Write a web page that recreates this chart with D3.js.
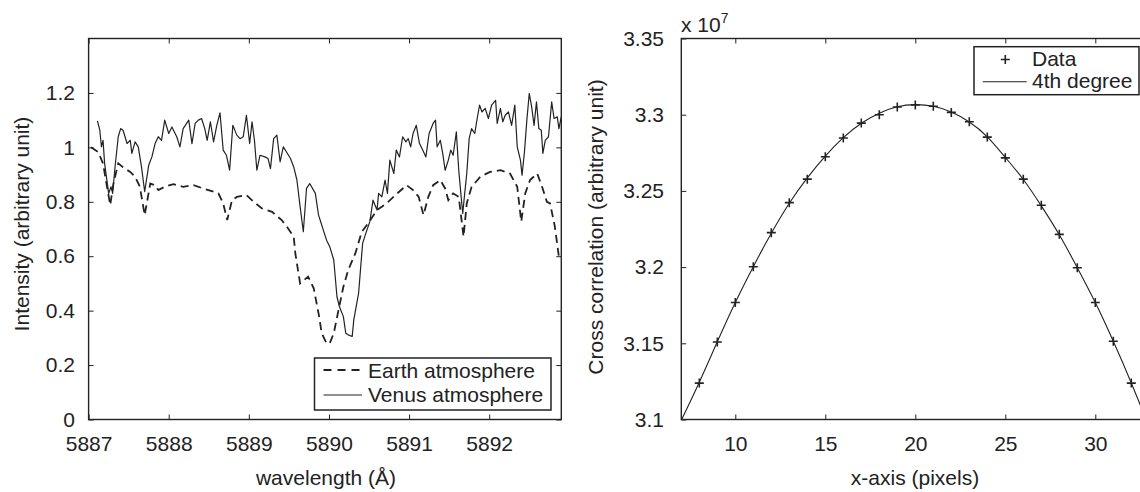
<!DOCTYPE html>
<html><head><meta charset="utf-8">
<script src="https://cdn.jsdelivr.net/npm/d3@7"></script>
<style>
body{margin:0;background:#fff;}
svg{display:block;font-family:"Liberation Sans",Arial,Helvetica,sans-serif;}
</style></head><body>
<svg id="chart" width="1140" height="492"></svg>
<script>
// ---------- Left panel data ----------
const earthWavelength = [5887.03,5887.12,5887.18,5887.23,5887.27,5887.31,5887.37,5887.45,5887.52,5887.58,5887.64,5887.70,5887.77,5887.83,5887.87,5887.95,5888.06,5888.18,5888.31,5888.43,5888.56,5888.62,5888.68,5888.73,5888.79,5888.85,5888.97,5889.06,5889.16,5889.29,5889.41,5889.49,5889.56,5889.58,5889.64,5889.74,5889.81,5889.87,5889.91,5889.97,5890.01,5890.06,5890.12,5890.18,5890.24,5890.33,5890.41,5890.49,5890.60,5890.72,5890.83,5890.97,5891.05,5891.12,5891.18,5891.24,5891.30,5891.39,5891.45,5891.49,5891.55,5891.62,5891.68,5891.72,5891.78,5891.89,5892.01,5892.14,5892.26,5892.35,5892.40,5892.45,5892.51,5892.60,5892.66,5892.72,5892.76,5892.82,5892.87,5892.90];
const earthIntensity = [1.00,0.983,0.941,0.855,0.788,0.867,0.941,0.922,0.910,0.892,0.855,0.751,0.867,0.861,0.843,0.855,0.865,0.855,0.861,0.849,0.837,0.831,0.794,0.733,0.806,0.818,0.825,0.800,0.776,0.763,0.733,0.702,0.672,0.611,0.500,0.525,0.482,0.390,0.317,0.280,0.280,0.317,0.403,0.488,0.549,0.611,0.690,0.721,0.770,0.794,0.825,0.861,0.843,0.818,0.751,0.818,0.861,0.880,0.849,0.806,0.831,0.818,0.672,0.794,0.855,0.892,0.910,0.916,0.904,0.855,0.727,0.831,0.880,0.904,0.855,0.800,0.794,0.708,0.598,0.586];
const venusWavelength = [5887.11,5887.14,5887.16,5887.18,5887.20,5887.25,5887.28,5887.30,5887.33,5887.37,5887.40,5887.43,5887.48,5887.52,5887.54,5887.58,5887.62,5887.66,5887.70,5887.75,5887.79,5887.83,5887.87,5887.91,5887.95,5888.00,5888.04,5888.10,5888.14,5888.18,5888.25,5888.29,5888.33,5888.37,5888.41,5888.45,5888.48,5888.52,5888.56,5888.60,5888.64,5888.68,5888.72,5888.76,5888.80,5888.85,5888.89,5888.93,5888.97,5889.01,5889.04,5889.07,5889.10,5889.14,5889.20,5889.24,5889.27,5889.31,5889.35,5889.39,5889.43,5889.47,5889.52,5889.56,5889.60,5889.64,5889.68,5889.72,5889.76,5889.83,5889.87,5889.89,5889.93,5889.97,5890.01,5890.06,5890.10,5890.13,5890.18,5890.21,5890.24,5890.29,5890.31,5890.37,5890.39,5890.42,5890.46,5890.51,5890.55,5890.60,5890.62,5890.66,5890.70,5890.73,5890.76,5890.81,5890.84,5890.88,5890.92,5890.96,5890.99,5891.02,5891.05,5891.09,5891.13,5891.17,5891.21,5891.25,5891.30,5891.33,5891.35,5891.39,5891.42,5891.45,5891.49,5891.52,5891.55,5891.59,5891.62,5891.65,5891.67,5891.69,5891.72,5891.75,5891.78,5891.82,5891.85,5891.88,5891.91,5891.95,5891.99,5892.03,5892.08,5892.10,5892.14,5892.17,5892.20,5892.24,5892.28,5892.32,5892.35,5892.39,5892.41,5892.44,5892.47,5892.50,5892.53,5892.56,5892.59,5892.62,5892.65,5892.67,5892.70,5892.74,5892.78,5892.81,5892.85,5892.87,5892.90];
const venusIntensity = [1.097,1.063,1.002,1.026,0.941,0.831,0.855,0.831,0.928,1.039,1.069,1.063,1.014,1.026,0.978,1.020,1.002,0.928,0.837,0.934,0.965,1.014,1.039,1.026,1.100,1.051,1.075,1.039,1.002,1.069,1.100,1.014,1.088,1.100,1.106,1.069,1.026,1.094,1.020,1.081,1.127,0.990,0.971,0.916,1.081,1.045,1.032,1.039,1.118,1.014,1.094,1.026,0.916,0.971,0.965,0.959,0.922,1.032,1.045,0.947,1.002,0.983,0.959,0.928,0.880,0.782,0.690,0.849,0.867,0.831,0.751,0.733,0.696,0.659,0.635,0.586,0.451,0.415,0.378,0.317,0.311,0.305,0.366,0.464,0.537,0.647,0.684,0.727,0.806,0.770,0.831,0.818,0.880,0.831,0.953,0.904,0.990,0.965,1.039,1.020,1.032,1.002,1.051,1.081,1.014,0.990,0.965,1.051,1.088,1.100,1.002,1.026,0.978,0.916,0.953,0.990,0.971,1.057,0.916,0.818,0.757,0.818,0.904,1.032,1.069,1.051,1.106,1.155,1.130,1.143,1.106,1.155,1.173,1.088,1.143,1.094,1.118,1.130,1.081,1.155,1.002,0.953,0.898,0.983,1.100,1.198,1.149,1.081,1.167,1.069,1.063,0.978,1.026,1.039,1.167,1.106,1.112,1.069,1.112];
const leftXTicks = [5887,5888,5889,5890,5891,5892];
const leftYTicks = [0,0.2,0.4,0.6,0.8,1,1.2];
const leftLegendLabels = ["Earth atmosphere","Venus atmosphere"];

// ---------- Right panel data ----------
const pixelPositions = [8,9,10,11,12,13,14,15,16,17,18,19,20,21,22,23,24,25,26,27,28,29,30,31,32];
const crossCorrelation = [3.1239,3.1509,3.1768,3.2002,3.2226,3.2423,3.2577,3.2724,3.2847,3.2945,3.3000,3.3051,3.3064,3.3055,3.3015,3.2954,3.2853,3.2717,3.2577,3.2406,3.2215,3.1996,3.1768,3.1513,3.1239];
const fitPositions = [7,8,9,10,11,12,13,14,15,16,17,18,19,20,21,22,23,24,25,26,27,28,29,30,31,32,33];
const fitValues = [3.0995,3.1245,3.1510,3.1768,3.2003,3.2222,3.2419,3.2585,3.2728,3.2849,3.2944,3.3010,3.3052,3.3066,3.3055,3.3017,3.2952,3.2855,3.2720,3.2575,3.2402,3.2212,3.1996,3.1767,3.1513,3.1240,3.0950];
const rightXTicks = [10,15,20,25,30];
const rightYTicks = [3.1,3.15,3.2,3.25,3.3,3.35];
const rightYTickLabels = ["3.1","3.15","3.2","3.25","3.3","3.35"];
const rightLegendLabels = ["Data","4th degree"];

const INK = "#222";
const FONT = 21;
const svg = d3.select("#chart");
svg.append("rect").attr("width",1140).attr("height",492).attr("fill","#fff");

function frame(g, x, y, xTicks, yTicks, xFmt, yFmt, yPad) {
  const [x0,x1] = x.range(), [y0,y1] = y.range();
  const bottom = g.append("g").attr("transform",`translate(0,${y0})`)
    .call(d3.axisBottom(x).tickValues(xTicks).tickFormat(xFmt).tickSize(-5).tickPadding(17));
  const top = g.append("g").attr("transform",`translate(0,${y1})`)
    .call(d3.axisTop(x).tickValues(xTicks).tickFormat("").tickSize(-5));
  const left = g.append("g").attr("transform",`translate(${x0},0)`)
    .call(d3.axisLeft(y).tickValues(yTicks).tickFormat(yFmt).tickSize(-5).tickPadding(yPad));
  const right = g.append("g").attr("transform",`translate(${x1},0)`)
    .call(d3.axisRight(y).tickValues(yTicks).tickFormat("").tickSize(-5));
  [bottom,top,left,right].forEach(a=>{
    a.select(".domain").remove();
    a.selectAll("line").attr("stroke",INK).attr("stroke-width",1);
    a.selectAll("text").attr("fill",INK).style("font-size",FONT+"px").style("font-family",'"Liberation Sans",Arial,sans-serif');
  });
  g.append("rect").attr("x",x0).attr("y",y1).attr("width",x1-x0).attr("height",y0-y1)
    .attr("fill","none").attr("stroke",INK).attr("stroke-width",1.4);
}

// ---------- Left panel ----------
const xL = d3.scaleLinear().domain([5887,5892.9]).range([88.6,561.3]);
const yL = d3.scaleLinear().domain([0,1.4]).range([419.5,38.5]);
const gL = svg.append("g");
gL.append("clipPath").attr("id","clipL").append("rect")
  .attr("x",88.6).attr("y",38.5).attr("width",561.3-88.6).attr("height",419.5-38.5);
const lineL = d3.line().x(d=>xL(d[0])).y(d=>yL(d[1]));
const plotL = gL.append("g").attr("clip-path","url(#clipL)");
plotL.append("path").datum(d3.zip(earthWavelength,earthIntensity))
  .attr("d",lineL).attr("fill","none").attr("stroke",INK).attr("stroke-width",1.8)
  .attr("stroke-dasharray","8,5");
plotL.append("path").datum(d3.zip(venusWavelength,venusIntensity))
  .attr("d",lineL).attr("fill","none").attr("stroke",INK).attr("stroke-width",1.2)
  .attr("stroke-linejoin","round");
frame(gL,xL,yL,leftXTicks,leftYTicks,d3.format("d"),d=>String(d),13.6);

// left legend
const legL = gL.append("g");
legL.append("rect").attr("x",314.5).attr("y",358).attr("width",551-314.5).attr("height",52)
  .attr("fill","#fff").attr("stroke",INK).attr("stroke-width",1.5);
legL.append("line").attr("x1",323.5).attr("x2",362).attr("y1",370).attr("y2",370)
  .attr("stroke",INK).attr("stroke-width",1.8).attr("stroke-dasharray","8,6");
legL.append("line").attr("x1",323.5).attr("x2",362).attr("y1",395).attr("y2",395)
  .attr("stroke",INK).attr("stroke-width",1.1);
legL.selectAll("text.lg").data(leftLegendLabels).join("text")
  .attr("x",368).attr("y",(d,i)=>377.5+i*24.5).attr("fill",INK)
  .style("font-size",FONT+"px").text(d=>d);

// axis titles left
gL.append("text").attr("x",326).attr("y",485).attr("text-anchor","middle")
  .attr("fill",INK).style("font-size",FONT+"px").text("wavelength (Å)");
gL.append("text").attr("transform","translate(21,224) rotate(-90)").attr("text-anchor","middle")
  .attr("dominant-baseline","central").attr("fill",INK).style("font-size",FONT+"px")
  .text("Intensity (arbitrary unit)");

// ---------- Right panel ----------
const xR = d3.scaleLinear().domain([7,33]).range([681.3,1149.3]);
const yR = d3.scaleLinear().domain([3.1,3.35]).range([419.5,38.5]);
const gR = svg.append("g");
gR.append("clipPath").attr("id","clipR").append("rect")
  .attr("x",681.3).attr("y",38.5).attr("width",1149.3-681.3).attr("height",419.5-38.5);
const plotR = gR.append("g").attr("clip-path","url(#clipR)");
plotR.append("path").datum(d3.zip(fitPositions,fitValues))
  .attr("d",d3.line().x(d=>xR(d[0])).y(d=>yR(d[1])).curve(d3.curveNatural))
  .attr("fill","none").attr("stroke",INK).attr("stroke-width",1.1);
const plusPath = "M-4.5,0H4.5M0,-4.5V4.5";
plotR.selectAll("path.mk").data(d3.zip(pixelPositions,crossCorrelation)).join("path")
  .attr("class","mk").attr("d",plusPath)
  .attr("transform",d=>`translate(${xR(d[0])},${yR(d[1])})`)
  .attr("stroke",INK).attr("stroke-width",1.6).attr("fill","none");
frame(gR,xR,yR,rightXTicks,rightYTicks,d3.format("d"),(d,i)=>rightYTickLabels[rightYTicks.indexOf(d)],17.3);

// exponent label
const expo = gR.append("text").attr("x",681).attr("y",32).attr("fill",INK).style("font-size",FONT+"px");
expo.append("tspan").text("x 10");
expo.append("tspan").attr("dy",-9).style("font-size","14px").text("7");

// right legend
const legR = gR.append("g");
legR.append("rect").attr("x",974).attr("y",46.7).attr("width",1139-974).attr("height",48)
  .attr("fill","#fff").attr("stroke",INK).attr("stroke-width",1.5);
legR.append("path").attr("d",plusPath).attr("transform","translate(1005.3,59.5)")
  .attr("stroke",INK).attr("stroke-width",1.6).attr("fill","none");
legR.append("line").attr("x1",982.7).attr("x2",1026.7).attr("y1",81.7).attr("y2",81.7)
  .attr("stroke",INK).attr("stroke-width",1.1);
legR.selectAll("text.lg").data(rightLegendLabels).join("text")
  .attr("x",1032).attr("y",(d,i)=>65.7+i*22).attr("fill",INK)
  .style("font-size",FONT+"px").text(d=>d);

gR.append("text").attr("x",915).attr("y",485).attr("text-anchor","middle")
  .attr("fill",INK).style("font-size",FONT+"px").text("x-axis (pixels)");
gR.append("text").attr("transform","translate(595,227) rotate(-90)").attr("text-anchor","middle")
  .attr("dominant-baseline","central").attr("fill",INK).style("font-size",FONT+"px")
  .text("Cross correlation (arbitrary unit)");
</script>
</body></html>
